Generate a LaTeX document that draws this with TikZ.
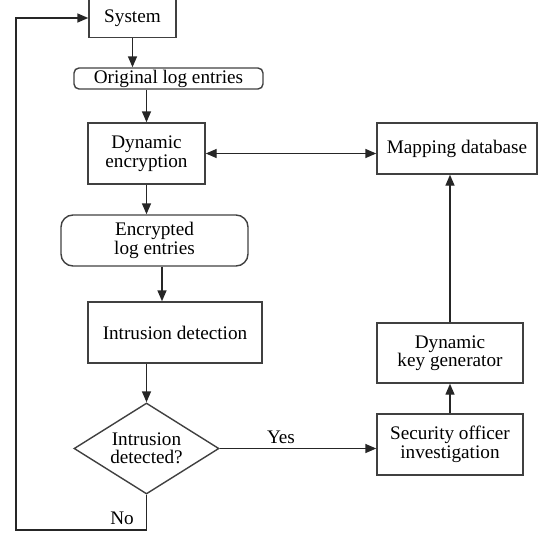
\documentclass[tikz,border=0pt]{standalone}
\usepackage{fontspec}
\setmainfont{Liberation Serif}
\usetikzlibrary{shapes.geometric,arrows.meta}
\begin{document}
\begin{tikzpicture}[x=1pt,y=-1pt,
  every node/.style={font=\fontsize{19.2}{18.5}\selectfont, align=center, inner sep=0pt},
  box/.style={draw=black!75, line width=1.4pt, minimum width=#1},
  rbox/.style={draw=black!75, line width=1.4pt, rounded corners=#1},
  conn/.style={draw=black!85, line width=1.4pt},
  tip/.style={},
  arr/.style={conn, -{Triangle[length=11pt,width=9pt]}},
  lbl/.style={font=\fontsize{19.2}{18.5}\selectfont}]
\useasboundingbox (0,0) rectangle (539,533);
\node[box=87, minimum height=39] (sys) at (132.5,18) {System};
\node[rbox=5pt, minimum width=189, minimum height=21] (orig) at (168.5,78.5) {Original log entries};
\node[box=117, minimum height=61] (dyn) at (146.5,153.5) {Dynamic\\encryption};
\node[rbox=12pt, minimum width=187, minimum height=51] (enc) at (154.5,240.5) {Encrypted\\log entries};
\node[box=174, minimum height=61] (intr) at (175,332.5) {Intrusion detection};
\node[draw=black!75, line width=1.4pt, diamond, aspect=1.6, minimum width=145, minimum height=91] (dia) at (146.5,448.5) {Intrusion\\detected?};
\node[box=160, minimum height=51] (map) at (457,148.5) {Mapping database};
\node[box=146, minimum height=60] (kg) at (450,353) {Dynamic\\key generator};
\node[box=146, minimum height=61] (sec) at (450,444.5) {Security officer\\investigation};
\node[lbl] (yes) at (281,437) {Yes};
\node[lbl] (no) at (122,518) {No};
\coordinate (lp) at (16,530);
\draw[arr] (sys.south) -- (sys.south |- orig.north);
\draw[arr] (dyn.north |- orig.south) -- (dyn.north);
\draw[arr] (dyn.south) -- (dyn.south |- enc.north);
\draw[arr] ([xshift=7.5pt]enc.south) -- ([xshift=7.5pt]enc.south |- intr.north);
\draw[arr] (dia.north |- intr.south) -- (dia.north);
\draw[conn, {Triangle[length=11pt,width=9pt]}-{Triangle[length=11pt,width=9pt]}] (dyn.east) -- (dyn.east -| map.west);
\draw[arr] (dia.east) -- (dia.east -| sec.west);
\draw[arr] (sec.north) -- (sec.north |- kg.south);
\draw[arr] (kg.north) -- (kg.north |- map.south);
\draw[arr] (dia.south) |- (lp) -- (lp |- sys.west) -- (sys.west);
\end{tikzpicture}
\end{document}
